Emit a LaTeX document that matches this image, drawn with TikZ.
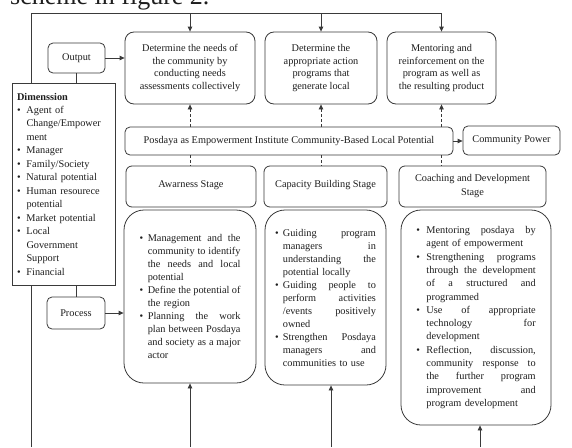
\documentclass[tikz,border=0pt]{standalone}
\usepackage{fontspec}
\setmainfont{Liberation Serif}
\usetikzlibrary{arrows.meta}
\definecolor{ln}{HTML}{3A3A3A}
\definecolor{tx}{HTML}{1E1E1E}
\newlength\bind
\newcommand\iJ[1]{\hbox to\hsize{\spaceskip=0pt\xspaceskip=0pt\makebox[\bind][l]{\textbullet}\hbox to\dimexpr\hsize-\bind\relax{#1}}}
\newcommand\lJ[1]{\hbox to\hsize{\spaceskip=0pt\xspaceskip=0pt\hskip\bind\hbox to\dimexpr\hsize-\bind\relax{#1}}}
\newcommand\iR[1]{\hbox to\hsize{\makebox[\bind][l]{\textbullet}#1\hfil}}
\newcommand\lR[1]{\hbox to\hsize{\hskip\bind#1\hfil}}
\tikzset{
  base/.style={draw=ln, line width=0.8pt, text=tx, fill=white, inner sep=0pt,
    font=\fontsize{10.3}{12.7}\selectfont},
  topbox/.style={base, rounded corners=9pt, align=center},
  smallbox/.style={base, rounded corners=5pt, align=center},
  stagebox/.style={base, rounded corners=6pt, align=center, minimum height=41pt},
  listbox/.style={base, rounded corners=20pt, font=\fontsize{10.3}{13}\selectfont},
  line/.style={draw=ln, line width=0.8pt},
  arr/.style={line, -{Triangle[length=5pt,width=4.5pt]}},
  dasharr/.style={arr, dash pattern=on 3pt off 2pt},
  dashline/.style={line, dash pattern=on 3pt off 2pt},
}
\begin{document}
\begin{tikzpicture}[x=1pt,y=-1pt]
\useasboundingbox (0,0) rectangle (572,447);
\begin{scope}
\clip (0,0) rectangle (572,447);
\node[anchor=base west, inner sep=0pt, text=tx, font=\fontsize{26}{30}\selectfont] (cap) at (10,5) {scheme in figure 2.};
\end{scope}

% top row
\node[topbox, minimum width=130pt, minimum height=72pt] (b1) at (190,68)
  {Determine the needs of\\the community by\\conducting needs\\assessments collectively};
\node[topbox, minimum width=112pt, minimum height=72pt] (b2) at (321,68)
  {Determine the\\appropriate action\\programs that\\generate local};
\node[topbox, minimum width=109pt, minimum height=72pt] (b3) at (441.5,68)
  {Mentoring and\\reinforcement on the\\program as well as\\the resulting product};

\node[smallbox, minimum width=57pt, minimum height=30pt] (out) at (76.5,58) {Output};
\node[smallbox, minimum width=58pt, minimum height=32pt] (proc) at (76,313) {Process};

\node[smallbox, minimum width=328pt, minimum height=28pt] (pos) at (289,141)
  {Posdaya as Empowerment Institute Community-Based Local Potential};
\node[smallbox, minimum width=97pt, minimum height=29pt] (cp) at (511.5,140.5) {Community Power};

% stages
\node[stagebox, minimum width=130pt, text height=7pt, text depth=6pt] (s1) at (191,186.5) {Awarness Stage};
\node[stagebox, minimum width=123pt, text height=7pt, text depth=6pt] (s2) at (325.5,186.5) {Capacity Building Stage};
\node[stagebox, minimum width=147pt, font=\fontsize{10.3}{14}\selectfont] (s3) at (472.5,186.5) {Coaching and Development\\Stage};

% detail boxes
\node[listbox, minimum width=132pt, minimum height=173pt, text width=101pt] (A) at (190,296.5) {%
\setlength\bind{8.3pt}%
\iJ{Management and the}
\lJ{community to identify}
\lJ{the needs and local}
\lR{potential}
\iJ{Define the potential of}
\lR{the region}
\iJ{Planning the work}
\lJ{plan between Posdaya}
\lJ{and society as a major}
\lR{actor}};

\node[listbox, minimum width=121pt, minimum height=175pt, text width=100.8pt] (B) at (325.5,297.5) {%
\setlength\bind{7.8pt}%
\iJ{Guiding program}
\lJ{managers in}
\lJ{understanding the}
\lR{potential locally}
\iJ{Guiding people to}
\lJ{perform activities}
\lJ{/events positively}
\lR{owned}
\iJ{Strengthen Posdaya}
\lJ{managers and}
\lR{communities to use}};

\node[listbox, minimum width=150pt, minimum height=215pt, text width=119.5pt, font=\fontsize{10.3}{13.3}\selectfont] (C) at (476,317.5) {%
\setlength\bind{10.2pt}%
\iJ{Mentoring posdaya by}
\lR{agent of empowerment}
\iJ{Strengthening programs}
\lJ{through the development}
\lJ{of a structured and}
\lR{programmed}
\iJ{Use of appropriate}
\lJ{technology for}
\lR{development}
\iJ{Reflection, discussion,}
\lJ{community response to}
\lJ{the further program}
\lJ{improvement and}
\lR{program development}};

% dimension box
\node[base, minimum width=103pt, minimum height=202pt, text width=93pt, font=\fontsize{10.3}{13.46}\selectfont] (dim) at (63.5,184) {%
\setlength\bind{9.5pt}%
\hbox{\textbf{Dimenssion}}
\iR{Agent of}
\lR{Change/Empower}
\lR{ment}
\iR{Manager}
\iR{Family/Society}
\iR{Natural potential}
\iR{Human resourece}
\lR{potential}
\iR{Market potential}
\iR{Local}
\lR{Government}
\lR{Support}
\iR{Financial}};

% frame lines
\coordinate (tl) at (31,13);
\coordinate (bl) at (31,447);
\draw[line] (bl) -- (bl |- dim.south);
\draw[line] (tl |- dim.north) -- (tl) -- (tl -| b3.north);
\draw[arr] (tl -| b1.north) -- (b1.north);
\draw[arr] (tl -| b2.north) -- (b2.north);
\draw[arr] (tl -| b3.north) -- (b3.north);

\draw[arr] (out.east) -- (out.east -| b1.west);
\draw[line] (out.south) -- (out.south |- dim.north);
\draw[line] (proc.north |- dim.south) -- (proc.north);
\draw[arr] (proc.east) -- (proc.east -| A.west);

\draw[dasharr] (pos.north -| b1.south) -- (b1.south);
\draw[dasharr] (pos.north -| b2.south) -- (b2.south);
\draw[dasharr] (pos.north -| b3.south) -- (b3.south);
\draw[dashline] (pos.south -| b1.south) -- (s1.north -| b1.south);
\draw[dashline] (pos.south -| b2.south) -- (s2.north -| b2.south);
\draw[dashline] (pos.south -| b3.south) -- (s3.north -| b3.south);
\draw[arr] (pos.east) -- (pos.east -| cp.west);

\coordinate (ba) at (190,447);
\coordinate (bb) at (331,447);
\coordinate (bc) at (480,447);
\draw[arr] (ba) -- (ba |- A.south);
\draw[arr] (bb) -- (bb |- B.south);
\draw[arr] (bc) -- (bc |- C.south);
\end{tikzpicture}
\end{document}
